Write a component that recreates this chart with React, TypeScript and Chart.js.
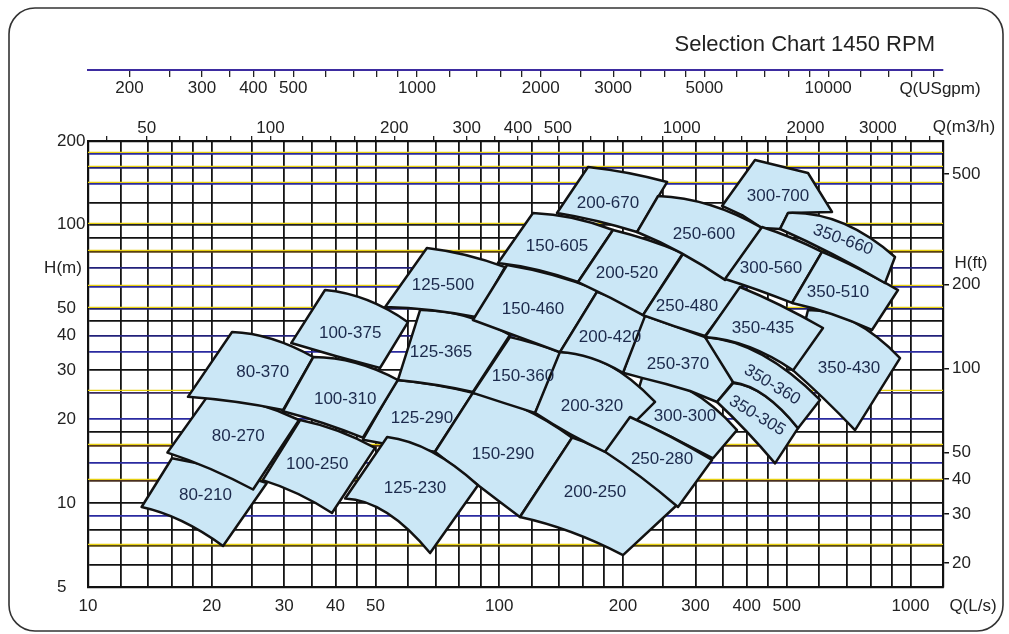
import React, { useEffect, useRef } from 'react';
import { Chart, registerables } from 'chart.js';

Chart.register(...registerables);

const FONT = "'Liberation Sans', Arial, sans-serif";

// ---------- axis values ----------
const qGrid = [10, 12, 14, 16, 18, 20, 25, 30, 35, 40, 45, 50, 60, 70, 80, 90, 100, 120, 140, 160, 180, 200, 250, 300, 350, 400, 450, 500, 600, 700, 800, 900, 1000, 1200];
const qLabels = [10, 20, 30, 40, 50, 100, 200, 300, 400, 500, 1000];
const hGrid = [5, 6, 7, 8, 9, 10, 12, 14, 16, 18, 20, 25, 30, 35, 40, 45, 50, 60, 70, 80, 90, 100, 120, 140, 160, 180, 200];
const hLabels = [5, 10, 20, 30, 40, 50, 100, 200];
const ftTicks = [20, 30, 40, 50, 100, 200, 500];
const m3hTicks = [40, 50, 60, 70, 80, 90, 100, 120, 140, 160, 180, 200, 250, 300, 350, 400, 450, 500, 600, 700, 800, 900, 1000, 1200, 1400, 1600, 1800, 2000, 2500, 3000, 3500, 4000];
const m3hLabels = [50, 100, 200, 300, 400, 500, 1000, 2000, 3000];
const gpmTicks = [200, 250, 300, 350, 400, 450, 500, 600, 700, 800, 900, 1000, 1200, 1400, 1600, 1800, 2000, 2500, 3000, 3500, 4000, 4500, 5000, 6000, 7000, 8000, 9000, 10000, 12000, 14000, 16000, 18000];
const gpmLabels = [200, 300, 400, 500, 1000, 2000, 3000, 5000, 10000];

const Q_MIN = 10;
const Q_MAX = 1200;
const H_MIN = 5;
const H_MAX = 200;
const LS_TO_M3H = 3.6;
const LS_TO_GPM = 15.8503;
const M_TO_FT = 3.28084;
const GPM_AXIS_AT_H = 360;

// ---------- pump areas (Q in L/s, H in m) ----------
// 'q' shapes: [top-left, top-mid, top-right, bottom-right, bottom-mid, bottom-left]
// 'p' shapes: plain polygon
const pumpNames = [
  '300-700', '350-430', '300-300', '250-370', '125-290',
  '80-210', '80-270', '80-370', '100-250', '100-310', '100-375',
  '150-290', '125-230', '125-365', '125-500',
  '150-360', '150-460', '150-605',
  '200-250', '200-320', '200-420', '200-520', '200-670',
  '250-280', '250-480', '250-600', '300-560',
  '350-305', '350-360', '350-435', '350-510', '350-660',
];
const pumpKinds = [
  'p', 'q', 'q', 'p', 'q',
  'q', 'q', 'q', 'q', 'q', 'q',
  'q', 'q', 'q', 'q',
  'q', 'q', 'q',
  'q', 'q', 'q', 'q', 'q',
  'q', 'q', 'q', 'q',
  'q', 'q', 'q', 'q', 'q',
];
const pumpQ: number[][] = [
  [348.2, 418.8, 563.5, 644.6, 503.9, 481.8, 435.6, 389.4],
  [563.5, 729.2, 943.4, 733.3, 616.4, 518.3],
  [222.5, 291.1, 378.6, 331.1, 261.8, 208.0],
  [223.7, 266.2, 316.6, 348.2, 370.4, 338.6, 291.1, 254.5, 222.5, 200],
  [56.4, 69.8, 86.3, 69.8, 57.4, 46.6],
  [16.0, 20.9, 27.2, 21.3, 16.9, 13.5],
  [19.8, 25.5, 32.6, 25.2, 19.8, 15.6],
  [22.4, 28.0, 35.3, 29.8, 22.9, 17.5],
  [32.8, 40.5, 49.9, 39.2, 32.4, 26.6],
  [35.3, 44.8, 56.7, 46.6, 37.3, 29.8],
  [37.7, 47.7, 60.0, 51.3, 39.9, 31.2],
  [86.3, 113.6, 150.4, 112.3, 88.8, 69.8],
  [53.4, 68.6, 88.8, 67.9, 53.4, 42.2],
  [64.2, 82.6, 106.2, 86.3, 70.2, 56.7],
  [66.7, 83.0, 103.3, 88.3, 68.3, 52.8],
  [106.2, 122.9, 142.1, 122.2, 102.7, 86.3],
  [104.5, 135.1, 173.9, 140.5, 109.9, 86.3],
  [120.8, 151.2, 189.1, 155.5, 124.2, 99.3],
  [150.4, 201.1, 270.6, 200, 149.5, 112.3],
  [140.5, 182.8, 239.3, 180.8, 148.7, 122.2],
  [172.9, 197.8, 226.2, 200, 167.2, 140.5],
  [189.1, 230.1, 280, 223.7, 187.0, 155.5],
  [164.4, 205.7, 256.0, 216.3, 172.9, 138.2],
  [208.0, 261.8, 329.3, 272.1, 221.2, 180.8],
  [280, 331.1, 393.8, 316.6, 266.2, 223.7],
  [243.4, 325.6, 435.6, 354.1, 276.7, 216.3],
  [435.6, 515.4, 609.5, 515.4, 426.0, 354.1],
  [370.4, 443.0, 532.9, 468.6, 398.2, 338.6],
  [316.6, 435.6, 602.7, 532.9, 443.0, 370.4],
  [385.0, 481.8, 612.9, 518.3, 405.0, 316.6],
  [609.5, 741.6, 932.9, 806.3, 644.6, 515.4],
  [503.9, 681.8, 917.3, 867.3, 644.6, 481.8],
];
const pumpH: number[][] = [
  [116.9, 170.9, 153.5, 111.2, 110.3, 96.6, 97.4, 108.4],
  [49.4, 44.7, 33.2, 18.3, 23.7, 30.0],
  [28.2, 25.3, 18.3, 14.5, 17.3, 20.4],
  [47.4, 43.3, 39.5, 34.1, 27.2, 23.1, 25.3, 26.8, 28.2, 29.4],
  [27.7, 26.6, 24.9, 15.3, 16.0, 16.9],
  [14.5, 13.3, 11.8, 7.02, 8.63, 9.69],
  [24.9, 22.9, 19.9, 11.2, 13.3, 15.2],
  [41.2, 38.9, 33.5, 21.6, 23.1, 24.1],
  [19.9, 18.2, 15.8, 9.22, 10.8, 12.1],
  [33.5, 31.9, 27.7, 17.2, 19.4, 21.4],
  [58.3, 53.7, 44.7, 30.6, 33.8, 37.6],
  [24.9, 22.0, 17.2, 8.92, 11.6, 15.3],
  [17.3, 15.3, 11.6, 6.62, 9.22, 10.4],
  [49.4, 47.0, 40.2, 25.1, 26.6, 27.7],
  [82.6, 77.9, 70.5, 46.6, 49.4, 50.7],
  [39.5, 37.3, 34.6, 21.1, 22.9, 24.9],
  [71.7, 66.0, 58.3, 34.9, 39.9, 45.5],
  [110.3, 105.8, 95.8, 62.3, 68.8, 72.9],
  [17.2, 14.0, 9.85, 6.51, 7.88, 8.92],
  [34.9, 31.6, 23.1, 15.3, 17.7, 21.1],
  [57.4, 52.8, 47.0, 29.4, 33.2, 34.9],
  [95.8, 88.2, 79.2, 47.4, 54.6, 62.3],
  [161.3, 153.5, 142.4, 94.2, 103.2, 110.3],
  [20.4, 17.3, 14.3, 9.69, 12.4, 15.3],
  [78.6, 70.5, 61.3, 39.9, 43.3, 47.4],
  [126.9, 117.8, 97.4, 63.4, 79.2, 94.2],
  [98.2, 89.6, 79.9, 52.4, 58.3, 63.9],
  [27.0, 24.3, 18.6, 13.9, 18.2, 23.1],
  [39.5, 34.1, 23.5, 18.6, 24.3, 27.2],
  [59.8, 51.5, 42.6, 30.0, 36.4, 39.5],
  [79.9, 69.9, 58.3, 41.9, 47.8, 52.4],
  [110.3, 101.5, 76.6, 61.8, 78.6, 96.6],
];
const labelQ = [
  476.5, 709.1, 283.0, 272.1, 64.9,
  19.3, 23.2, 26.6, 36.1, 42.2, 43.4,
  102.1, 62.4, 72.2, 73.0,
  114.2, 120.8, 138.2,
  171.0, 168.1, 185.9, 204.5, 183.9,
  248.9, 286.2, 314.8, 458.1,
  423.6, 460.7, 438.1, 666.7, 685.6,
];
const labelH = [
  126.9, 30.6, 20.6, 31.6, 20.1,
  10.7, 17.4, 29.4, 13.8, 23.7, 40.9,
  15.0, 11.3, 34.9, 60.8,
  28.6, 49.8, 83.9,
  10.9, 22.3, 39.5, 67.1, 119.8,
  14.4, 51.1, 92.6, 69.9,
  20.6, 26.6, 42.6, 57.4, 88.2,
];
const labelAngle = [
  0, 0, 0, 0, 0,
  0, 0, 0, 0, 0, 0,
  0, 0, 0, 0,
  0, 0, 0,
  0, 0, 0, 0, 0,
  0, 0, 0, 0,
  31, 31, 0, 0, 20,
];

// ---------- styles ----------
const FILL = '#cbe7f6';
const OUTLINE = '#121212';
const LABEL_COLOR = '#1c2a4c';
const TEXT_COLOR = '#222222';
const hLineColor: Record<number, string> = {
  5: '#111', 6: '#111', 7: '#5a4a10', 8: '#111', 9: '#2a2aa0', 10: '#111',
  12: '#4a3020', 14: '#2a2aa0', 16: '#5a3a18', 18: '#111', 20: '#2a2aa0',
  25: '#3a2a60', 30: '#111', 35: '#2a2aa0', 40: '#22207a', 45: '#111',
  50: '#22206a', 60: '#2a2aa0', 70: '#22207a', 80: '#5a4010', 90: '#111',
  100: '#222', 120: '#111', 140: '#2a2aa0', 160: '#22207a', 180: '#2a2aa0', 200: '#111',
};
const yellowFringe = [7, 12, 16, 25, 50, 60, 80, 100, 140, 160, 180];

const tickFont = { family: FONT, size: 17 };

const fringePlugin = {
  id: 'gridFringe',
  beforeDatasetsDraw(chart: any) {
    const ctx: CanvasRenderingContext2D = chart.ctx;
    const ys = chart.scales.y;
    const area = chart.chartArea;
    ctx.save();
    ctx.strokeStyle = '#e6cf10';
    ctx.lineWidth = 1.2;
    yellowFringe.forEach((v) => {
      const py = Math.round(ys.getPixelForValue(v)) - 1.6;
      ctx.beginPath();
      ctx.moveTo(area.left, py);
      ctx.lineTo(area.right, py);
      ctx.stroke();
    });
    ctx.restore();
  },
};

const shapesPlugin = {
  id: 'pumpShapes',
  afterDatasetsDraw(chart: any) {
    const ctx: CanvasRenderingContext2D = chart.ctx;
    ctx.save();
    chart.data.datasets.forEach((_ds: any, i: number) => {
      const meta = chart.getDatasetMeta(i);
      const p = meta.data.map((e: any) => ({ x: e.x, y: e.y }));
      ctx.beginPath();
      if (pumpKinds[i] === 'q') {
        const [a, b, c, d, e, f] = p;
        ctx.moveTo(a.x, a.y);
        ctx.quadraticCurveTo(2 * b.x - (a.x + c.x) / 2, 2 * b.y - (a.y + c.y) / 2, c.x, c.y);
        ctx.lineTo(d.x, d.y);
        ctx.quadraticCurveTo(2 * e.x - (d.x + f.x) / 2, 2 * e.y - (d.y + f.y) / 2, f.x, f.y);
        ctx.closePath();
      } else {
        p.forEach((pt: any, k: number) => (k ? ctx.lineTo(pt.x, pt.y) : ctx.moveTo(pt.x, pt.y)));
        ctx.closePath();
      }
      ctx.fillStyle = FILL;
      ctx.fill();
      ctx.lineWidth = 2.5;
      ctx.lineJoin = 'round';
      ctx.strokeStyle = OUTLINE;
      ctx.stroke();
    });
    const xs = chart.scales.x;
    const ys = chart.scales.y;
    ctx.font = `17px ${FONT}`;
    ctx.fillStyle = LABEL_COLOR;
    ctx.textAlign = 'center';
    ctx.textBaseline = 'middle';
    pumpNames.forEach((name, i) => {
      const px = xs.getPixelForValue(labelQ[i]);
      const py = ys.getPixelForValue(labelH[i]);
      ctx.save();
      ctx.translate(px, py);
      ctx.rotate((labelAngle[i] * Math.PI) / 180);
      ctx.fillText(name, 0, 0);
      ctx.restore();
    });
    ctx.restore();
  },
};

const framePlugin = {
  id: 'frame',
  beforeDraw(chart: any) {
    const ctx: CanvasRenderingContext2D = chart.ctx;
    ctx.save();
    ctx.fillStyle = '#ffffff';
    ctx.fillRect(0, 0, chart.width, chart.height);
    const l = 9, t = 8, r = 1003, b = 631, rad = 26;
    ctx.beginPath();
    ctx.moveTo(l + rad, t);
    ctx.lineTo(r - rad, t);
    ctx.arcTo(r, t, r, t + rad, rad);
    ctx.lineTo(r, b - rad);
    ctx.arcTo(r, b, r - rad, b, rad);
    ctx.lineTo(l + rad, b);
    ctx.arcTo(l, b, l, b - rad, rad);
    ctx.lineTo(l, t + rad);
    ctx.arcTo(l, t, l + rad, t, rad);
    ctx.closePath();
    ctx.lineWidth = 1.6;
    ctx.strokeStyle = '#333';
    ctx.stroke();
    ctx.restore();
  },
  afterDraw(chart: any) {
    const ctx: CanvasRenderingContext2D = chart.ctx;
    ctx.save();
    ctx.fillStyle = TEXT_COLOR;
    ctx.textBaseline = 'middle';
    ctx.font = `22px ${FONT}`;
    ctx.textAlign = 'right';
    ctx.fillText('Selection Chart 1450 RPM', 935, 45);
    ctx.font = `17px ${FONT}`;
    ctx.textAlign = 'center';
    ctx.fillText('Q(USgpm)', 940, 89);
    ctx.fillText('Q(m3/h)', 964, 127);
    ctx.fillText('Q(L/s)', 973, 606);
    ctx.fillText('H(m)', 63, 268);
    ctx.fillText('H(ft)', 971, 263);
    ctx.restore();
  },
};

const labelCb = (list: number[]) => (v: any) => (list.includes(Number(v)) ? String(v) : '');

export default function App() {
  const ref = useRef<HTMLCanvasElement>(null);
  useEffect(() => {
    const canvas = ref.current;
    if (!canvas) return;
    const datasets = pumpNames.map((name, i) => ({
      label: name,
      data: pumpQ[i].map((q, k) => ({ x: q, y: pumpH[i][k] })),
      showLine: false,
      pointRadius: 0,
      pointHoverRadius: 0,
      pointHitRadius: 0,
      xAxisID: 'x',
      yAxisID: 'y',
    }));
    const chart = new Chart(canvas, {
      type: 'line',
      data: { datasets },
      plugins: [framePlugin, fringePlugin, shapesPlugin],
      options: {
        animation: false,
        responsive: false,
        events: [],
        layout: { padding: { left: 57, top: 0, right: 0, bottom: 0 } },
        plugins: { legend: { display: false }, tooltip: { enabled: false }, title: { display: false } },
        scales: {
          x: {
            type: 'logarithmic',
            position: 'bottom',
            min: Q_MIN,
            max: Q_MAX,
            afterBuildTicks: (s: any) => { s.ticks = qGrid.map((v) => ({ value: v })); },
            afterFit: (s: any) => { s.height = 47; },
            grid: { color: '#141414', lineWidth: 1.8, drawTicks: false },
            border: { display: true, color: '#111', width: 2.2 },
            ticks: { autoSkip: false, maxRotation: 0, minRotation: 0, padding: 9, color: TEXT_COLOR, font: tickFont, callback: labelCb(qLabels) },
          },
          y: {
            type: 'logarithmic',
            position: 'left',
            min: H_MIN,
            max: H_MAX,
            afterBuildTicks: (s: any) => { s.ticks = hGrid.map((v) => ({ value: v })); },
            afterFit: (s: any) => { s.width = 31; },
            grid: { color: (c: any) => hLineColor[c.tick?.value] || '#111', lineWidth: 1.8, drawTicks: false },
            border: { display: true, color: '#111', width: 2.2 },
            ticks: { autoSkip: false, crossAlign: 'far', padding: 0, color: TEXT_COLOR, font: tickFont, callback: labelCb(hLabels) },
          },
          yft: {
            axis: 'y',
            type: 'logarithmic',
            position: 'right',
            min: H_MIN * M_TO_FT,
            max: H_MAX * M_TO_FT,
            afterBuildTicks: (s: any) => { s.ticks = ftTicks.map((v) => ({ value: v })); },
            afterFit: (s: any) => { s.width = 66; },
            grid: { drawOnChartArea: false, drawTicks: true, tickLength: 6, color: '#111', lineWidth: 1.5 },
            border: { display: true, color: '#111', width: 2.2 },
            ticks: { autoSkip: false, padding: 3, color: TEXT_COLOR, font: tickFont, callback: (v: any) => String(v) },
          },
          m3h: {
            axis: 'x',
            type: 'logarithmic',
            position: 'top',
            min: Q_MIN * LS_TO_M3H,
            max: Q_MAX * LS_TO_M3H,
            afterBuildTicks: (s: any) => { s.ticks = m3hTicks.map((v) => ({ value: v })); },
            afterFit: (s: any) => { s.height = 141; },
            grid: { drawOnChartArea: false, drawTicks: true, tickLength: 5, color: '#222', lineWidth: 1.3 },
            border: { display: true, color: '#111', width: 2.2 },
            ticks: { autoSkip: false, maxRotation: 0, minRotation: 0, padding: -2.2, color: TEXT_COLOR, font: tickFont, callback: labelCb(m3hLabels) },
          },
          gpm: {
            axis: 'x',
            type: 'logarithmic',
            position: { y: GPM_AXIS_AT_H },
            min: Q_MIN * LS_TO_GPM,
            max: Q_MAX * LS_TO_GPM,
            afterBuildTicks: (s: any) => { s.ticks = gpmTicks.map((v) => ({ value: v })); },
            grid: { drawOnChartArea: false, drawTicks: true, tickLength: 6, color: '#222', lineWidth: 1.3 },
            border: { display: true, color: '#3d2ca0', width: 2 },
            ticks: { autoSkip: false, maxRotation: 0, minRotation: 0, padding: 1.8, color: TEXT_COLOR, font: tickFont, callback: labelCb(gpmLabels) },
          },
        },
      } as any,
    });
    return () => chart.destroy();
  }, []);
  return (
    <div style={{ position: 'fixed', left: 0, top: 0, width: 1009, height: 634, background: '#fff' }}>
      <canvas ref={ref} width={1009} height={634} style={{ display: 'block', width: 1009, height: 634 }} />
    </div>
  );
}
